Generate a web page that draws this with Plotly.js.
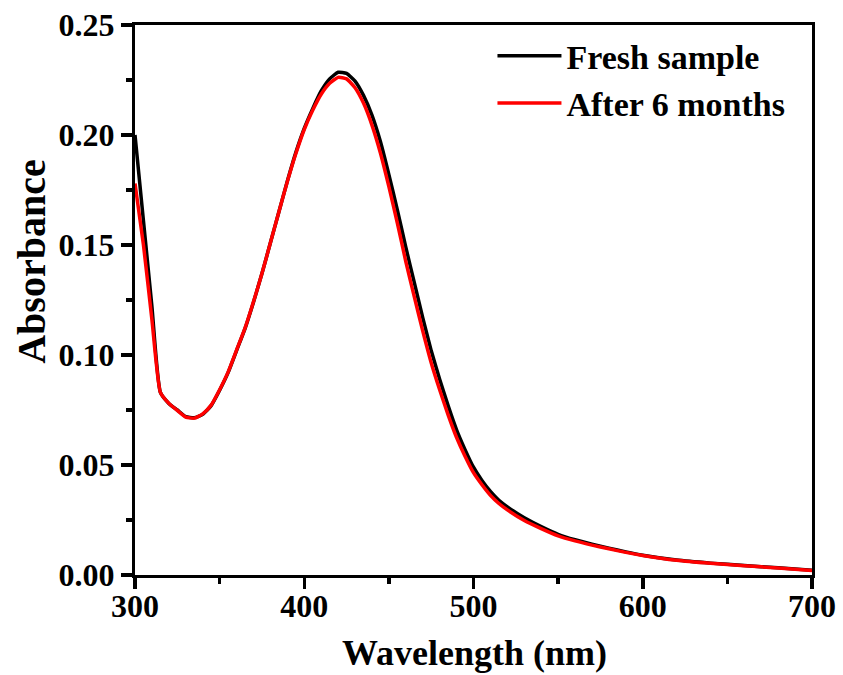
<!DOCTYPE html>
<html>
<head>
<meta charset="utf-8">
<script src="https://cdn.plot.ly/plotly-3.0.1.min.js"></script>
<style>html,body{margin:0;padding:0;background:#fff;}#chart{width:843px;height:675px;}</style>
</head>
<body>
<div id="chart"></div>
<script>
const wavelength = [300,305,310,315,320,325,330,335,340,345,350,355,360,365,370,375,380,385,390,395,400,405,410,415,420,425,430,435,440,445,450,455,460,465,470,475,480,485,490,495,500,505,510,515,520,530,540,550,560,570,580,590,600,620,640,660,680,700];
const freshSample = [0.200,0.161,0.122,0.083,0.078,0.075,0.072,0.0715,0.073,0.077,0.084,0.092,0.102,0.112,0.124,0.137,0.151,0.165,0.179,0.192,0.203,0.212,0.220,0.2255,0.2285,0.228,0.2245,0.218,0.209,0.197,0.182,0.166,0.149,0.133,0.117,0.102,0.089,0.077,0.066,0.057,0.049,0.043,0.038,0.034,0.031,0.026,0.022,0.0185,0.0160,0.0140,0.0122,0.0105,0.0090,0.0068,0.0054,0.0043,0.0033,0.0022];
const afterSixMonths = [0.178,0.150,0.116,0.083,0.078,0.0748,0.0718,0.0713,0.0732,0.0772,0.0842,0.0922,0.1022,0.1122,0.1242,0.137,0.151,0.165,0.1788,0.1915,0.2025,0.2112,0.2185,0.2235,0.2262,0.2255,0.2215,0.2145,0.2045,0.1918,0.1765,0.160,0.1425,0.1265,0.111,0.0965,0.0842,0.0728,0.0625,0.054,0.0465,0.041,0.0362,0.0325,0.0296,0.0248,0.0211,0.0178,0.0155,0.0136,0.0119,0.0103,0.0089,0.0067,0.0053,0.0042,0.0032,0.0021];
const seriesNames = ['Fresh sample','After 6 months'];
const xTicks = [300,400,500,600,700];
const yTicks = [0.00,0.05,0.10,0.15,0.20,0.25];
const xTitle = 'Wavelength (nm)';
const yTitle = 'Absorbance';

const F = 'Liberation Serif, Times New Roman, serif';
const traces = [
  {x: wavelength, y: freshSample, name: seriesNames[0], type: 'scatter', mode: 'lines',
   line: {color: '#000000', width: 3.5, shape: 'spline', smoothing: 0.5}},
  {x: wavelength, y: afterSixMonths, name: seriesNames[1], type: 'scatter', mode: 'lines',
   line: {color: '#ff0000', width: 3.5, shape: 'spline', smoothing: 0.5}}
];
const layout = {
  width: 843, height: 675,
  margin: {l: 135, r: 31, t: 25, b: 100},
  paper_bgcolor: '#ffffff', plot_bgcolor: '#ffffff',
  showlegend: true,
  legend: {x: 0.528, y: 0.996, xanchor: 'left', yanchor: 'top', bgcolor: 'rgba(0,0,0,0)',
           font: {family: F, size: 34, color: '#000', weight: 'bold'}, itemwidth: 64, tracegroupgap: 0},
  xaxis: {
    range: [300, 700], tickvals: xTicks, ticktext: xTicks.map(String),
    showgrid: false, zeroline: false, showline: true, mirror: true, linecolor: '#000', linewidth: 3,
    ticks: 'outside', ticklen: 11, tickwidth: 3.5, tickcolor: '#000', ticklabelstandoff: -10,
    minor: {dtick: 50, ticks: 'outside', ticklen: 6, tickwidth: 3.5, tickcolor: '#000'},
    tickfont: {family: F, size: 32, color: '#000', weight: 'bold'}
  },
  yaxis: {
    range: [0, 0.25], tickvals: yTicks, ticktext: yTicks.map(v => v.toFixed(2)),
    showgrid: false, zeroline: false, showline: true, mirror: true, linecolor: '#000', linewidth: 3,
    ticks: 'outside', ticklen: 11, tickwidth: 3.5, tickcolor: '#000',
    minor: {dtick: 0.025, ticks: 'outside', ticklen: 6, tickwidth: 3.5, tickcolor: '#000'},
    tickfont: {family: F, size: 32, color: '#000', weight: 'bold'}
  },
  annotations: [
    {text: xTitle, xref: 'paper', yref: 'paper', x: 0.502, y: -0.142, xanchor: 'center', yanchor: 'middle',
     showarrow: false, font: {family: F, size: 36, color: '#000', weight: 'bold'}},
    {text: yTitle, xref: 'paper', yref: 'paper', x: -0.154, y: 0.569, xanchor: 'center', yanchor: 'middle',
     textangle: -90, showarrow: false, font: {family: F, size: 40, color: '#000', weight: 'bold'}}
  ]
};
Plotly.newPlot('chart', traces, layout, {staticPlot: true, displayModeBar: false});
</script>
</body>
</html>
